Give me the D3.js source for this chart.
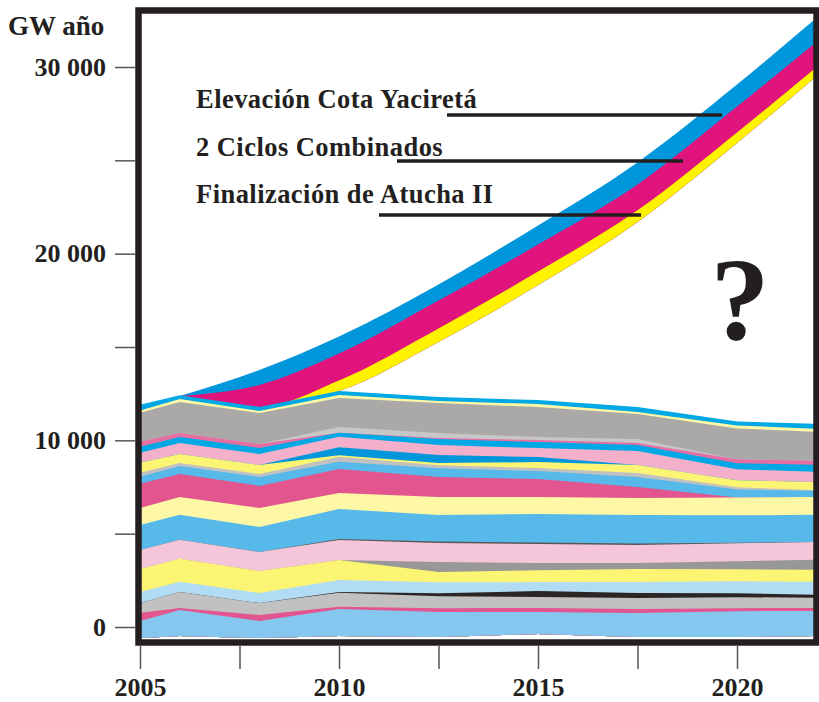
<!DOCTYPE html>
<html>
<head>
<meta charset="utf-8">
<script src="https://cdn.jsdelivr.net/npm/d3@7/dist/d3.min.js"></script>
<style>
  html, body { margin: 0; padding: 0; background: #ffffff; }
  svg { display: block; }
  text { font-family: "Liberation Serif", "Times New Roman", serif; font-weight: bold; fill: #231f20; }
</style>
</head>
<body>
<div id="chart"></div>
<script>
// ---------------- DATA ----------------
// Years of the stacked supply layers
const anios = [2005, 2006, 2008, 2010, 2012.5, 2015, 2017.5, 2020, 2022];
// Bottom of the stack (GW año)
const lineaBase = [-590, -480, -590, -480, -540, -375, -540, -540, -480];

// Layer thicknesses (GW año), bottom to top
const capa01 = [910, 1390, 910, 1450, 1340, 1180, 1290, 1390, 1340];
const capa02 = [430, 110, 320, 110, 210, 210, 210, 160, 160];
const capa03 = [540, 860, 640, 750, 640, 590, 590, 590, 540];
const capa04 = [0, 0, 0, 50, 160, 320, 270, 210, 160];
const capa05 = [590, 540, 540, 640, 590, 480, 590, 640, 700];
const capa06 = [1230, 1230, 1180, 1070, 540, 640, 700, 640, 640];
const capa07 = [0, 0, 0, 0, 540, 380, 320, 430, 540];
const capa08 = [1020, 1020, 1020, 1070, 1020, 1020, 960, 960, 960];
const capa09 = [0, 0, 0, 50, 80, 80, 80, 30, 0];
const capa10 = [1340, 1340, 1340, 1610, 1420, 1530, 1530, 1470, 1450];
const capa11 = [910, 960, 1020, 860, 960, 910, 910, 960, 960];
const capa12 = [1290, 1230, 1180, 1290, 1070, 960, 590, 0, 0];
const capa13 = [380, 430, 480, 380, 480, 430, 540, 430, 320];
const capa14 = [210, 160, 160, 270, 160, 160, 210, 110, 50];
const capa15 = [540, 480, 480, 80, 110, 320, 430, 380, 430];
const capa16 = [0, 0, 0, 430, 430, 270, 0, 0, 0];
const capa17 = [540, 590, 590, 560, 540, 480, 750, 590, 540];
const capa18 = [320, 320, 320, 210, 320, 320, 320, 320, 380];
const capa19 = [270, 210, 210, 0, 50, 110, 110, 210, 210];
const capa20 = [0, 0, 0, 320, 270, 160, 210, 0, 0];
const capa21 = [1550, 1660, 1660, 1550, 1610, 1610, 1340, 1660, 1550];
const capa22 = [110, 160, 110, 160, 110, 160, 110, 160, 160];
const capa23 = [320, 210, 210, 210, 210, 210, 270, 210, 270];

// Growth bands (new supply)
const aniosCrecimiento = [2006, 2008, 2010, 2012.5, 2015, 2017.5, 2020, 2022];
const baseCrecimiento = [12380, 11790, 12640, 15270, 18320, 21700, 25930, 29520];
const atuchaII = [0, 0, 560, 720, 720, 620, 560, 480];
const ciclosCombinados = [0, 1180, 1450, 1500, 1450, 1390, 1390, 1340];
const cotaYacireta = [0, 800, 910, 860, 1020, 1180, 1180, 1290];

// Labels
const anotaciones = ["Elevación Cota Yaciretá", "2 Ciclos Combinados", "Finalización de Atucha II"];
const yTicksMayores = [0, 10000, 20000, 30000];
const yTickEtiquetas = ["0", "10 000", "20 000", "30 000"];
const yTicksMenores = [5000, 15000, 25000];
const xTicksMayores = [2005, 2010, 2015, 2020];
const xTicksMenores = [2007.5, 2012.5, 2017.5];
const unidad = "GW año";

// ---------------- STYLE ----------------
const capas = [
  [capa01, "#86c7f0"], [capa02, "#e2558f"], [capa03, "#c1c1c1"], [capa04, "#2b2523"],
  [capa05, "#b2dcf4"], [capa06, "#fcf574"], [capa07, "#989898"], [capa08, "#f5c6da"],
  [capa09, "#5a5656"], [capa10, "#56b9ea"], [capa11, "#fef7a6"], [capa12, "#e2558f"],
  [capa13, "#56b9ea"], [capa14, "#c1c1c1"], [capa15, "#fcf574"], [capa16, "#0096dc"],
  [capa17, "#f4afcb"], [capa18, "#00a8e5"], [capa19, "#e56ea3"], [capa20, "#c7c7c7"],
  [capa21, "#aaa9a8"], [capa22, "#fef7a6"], [capa23, "#00a8e5"]
];
const bandas = [[atuchaII, "#fff200"], [ciclosCombinados, "#e0147c"], [cotaYacireta, "#0096db"]];

const W = 819, H = 702;
const svg = d3.select("#chart").append("svg").attr("width", W).attr("height", H);

const x = d3.scaleLinear().domain([2005, 2020]).range([140, 737]);
const y = d3.scaleLinear().domain([0, 30000]).range([627, 67]);

svg.append("defs").append("clipPath").attr("id", "clip")
  .append("rect").attr("x", 141).attr("y", 13).attr("width", 673).attr("height", 627);
const plot = svg.append("g").attr("clip-path", "url(#clip)");

function stackWithBase(xs, base, layers) {
  const keys = layers.map((_, i) => "k" + i);
  const rows = xs.map((a, j) => {
    const r = { anio: a, base: base[j] };
    layers.forEach((l, i) => r["k" + i] = l[0][j]);
    return r;
  });
  return d3.stack().keys(keys).offset((series, order) => {
    d3.stackOffsetNone(series, order);
    series.forEach(s => s.forEach((p, j) => { p[0] += base[j]; p[1] += base[j]; }));
  })(rows);
}

// Growth bands: draw from top band down, each filled down to its base
const stG = stackWithBase(aniosCrecimiento, baseCrecimiento, bandas);
const areaG = d3.area().curve(d3.curveMonotoneX)
  .x(d => x(d.data.anio)).y0(d => y(d.data.base)).y1(d => y(d[1]));
for (let i = stG.length - 1; i >= 0; i--) {
  plot.append("path").attr("d", areaG(stG[i])).attr("fill", bandas[i][1]);
}

// Base supply layers
const stB = stackWithBase(anios, lineaBase, capas);
const areaB = d3.area().curve(d3.curveLinear)
  .x(d => x(d.data.anio)).y0(d => y(d.data.base)).y1(d => y(d[1]));
for (let i = stB.length - 1; i >= 0; i--) {
  plot.append("path").attr("d", areaB(stB[i])).attr("fill", capas[i][1]);
}

// Frame
svg.append("rect").attr("x", 138.5).attr("y", 10.5).attr("width", 678).attr("height", 632)
  .attr("fill", "none").attr("stroke", "#231f20").attr("stroke-width", 6.5);

// Y axis
const yAxis = d3.axisLeft(y).tickValues(yTicksMayores)
  .tickFormat((d, i) => yTickEtiquetas[i]).tickSize(21).tickPadding(9);
const gy = svg.append("g").attr("transform", "translate(136,0)").call(yAxis);
const yAxisMin = d3.axisLeft(y).tickValues(yTicksMenores).tickFormat("").tickSize(21);
const gy2 = svg.append("g").attr("transform", "translate(136,0)").call(yAxisMin);
[gy, gy2].forEach(g => {
  g.select(".domain").remove();
  g.selectAll("line").attr("stroke", "#555").attr("stroke-width", 1.5);
  g.selectAll("text").style("font-size", "26px").style("font-family", "'Liberation Serif', serif")
    .style("font-weight", "bold").attr("fill", "#231f20");
});

// X axis
const xAxis = d3.axisBottom(x).tickValues(xTicksMayores).tickFormat(d3.format("d")).tickSize(23).tickPadding(9);
const gx = svg.append("g").attr("transform", "translate(0,646)").call(xAxis);
const xAxisMin = d3.axisBottom(x).tickValues(xTicksMenores).tickFormat("").tickSize(23);
const gx2 = svg.append("g").attr("transform", "translate(0,646)").call(xAxisMin);
[gx, gx2].forEach(g => {
  g.select(".domain").remove();
  g.selectAll("line").attr("stroke", "#555").attr("stroke-width", 1.5);
  g.selectAll("text").style("font-size", "26px").style("font-family", "'Liberation Serif', serif")
    .style("font-weight", "bold").attr("fill", "#231f20");
});

// Unit label
svg.append("text").attr("x", 8).attr("y", 35).style("font-size", "27px").text(unidad);

// Annotations
const anotBase = [108, 156, 203];
const anotLineas = [[447, 722, 115], [397, 683, 161], [379, 641, 215]];
anotaciones.forEach((t, i) => {
  svg.append("text").attr("x", 196).attr("y", anotBase[i]).style("font-size", "26.5px")
    .style("letter-spacing", "0.45px").text(t);
  svg.append("line").attr("x1", anotLineas[i][0]).attr("x2", anotLineas[i][1])
    .attr("y1", anotLineas[i][2]).attr("y2", anotLineas[i][2])
    .attr("stroke", "#231f20").attr("stroke-width", 3.5);
});

// Question mark
svg.append("text").attr("x", 740).attr("y", 339).attr("text-anchor", "middle")
  .style("font-size", "118px").text("?");
</script>
</body>
</html>
